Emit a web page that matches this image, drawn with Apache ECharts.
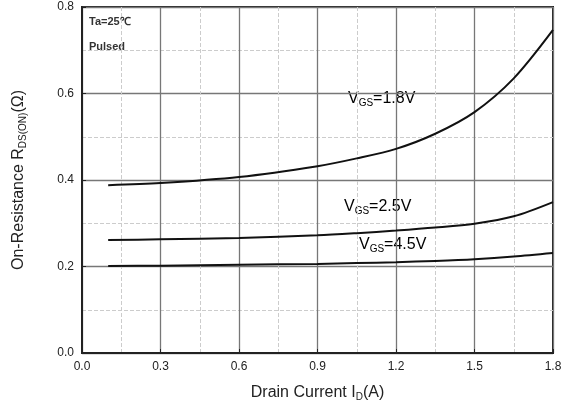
<!DOCTYPE html>
<html>
<head>
<meta charset="utf-8">
<script src="https://cdn.jsdelivr.net/npm/echarts@6/dist/echarts.min.js"></script>
<style>
  html, body { margin: 0; padding: 0; background: #fff; }
  #chart { width: 566px; height: 414px; }
</style>
</head>
<body>
<div id="chart"></div>
<script>
// drain current (A)
var current = [0.1, 0.3, 0.6, 0.9, 1.05, 1.2, 1.35, 1.5, 1.65, 1.8]
// on-resistance (ohm) per gate voltage
var vgs18 = [0.388, 0.393, 0.407, 0.432, 0.450, 0.472, 0.507, 0.557, 0.635, 0.747]
var vgs25 = [0.261, 0.263, 0.266, 0.272, 0.277, 0.283, 0.290, 0.299, 0.316, 0.349]
var vgs45 = [0.201, 0.202, 0.204, 0.206, 0.208, 0.210, 0.213, 0.217, 0.223, 0.231]

function pairs(ys) {
  return current.map(function (x, i) { return [x, ys[i]] })
}

var font = 'Liberation Sans, Arial, sans-serif'
var chart = echarts.init(document.getElementById('chart'))

function curve(ys) {
  return {
    type: 'line',
    data: pairs(ys),
    smooth: 0.3,
    showSymbol: false,
    lineStyle: { color: '#111', width: 2 }
  }
}

var titleRich = {
  a: { fontSize: 16, color: '#222', fontFamily: font },
  s: { fontSize: 10, color: '#222', fontFamily: font, padding: [9, 0, 0, 0] }
}
var vRich = {
  v: { fontSize: 16, color: '#222', fontFamily: font },
  s: { fontSize: 10, color: '#222', fontFamily: font, padding: [9, 0, 0, 0] }
}

function axisStyle() {
  return {
    axisLine: { lineStyle: { color: '#222', width: 2 } },
    axisTick: { inside: true, length: 4, lineStyle: { color: '#222' } },
    axisLabel: { color: '#222', fontSize: 12, fontFamily: font, formatter: function (v) { return v.toFixed(1) } },
    splitLine: { lineStyle: { color: '#777', width: 1.3 } },
    minorTick: { show: false, splitNumber: 2 },
    minorSplitLine: { show: true, lineStyle: { color: '#ccc', type: 'dashed', width: 1 } }
  }
}

chart.setOption({
  animation: false,
  grid: {
    left: 82, right: 13, top: 7, bottom: 61,
    show: true, borderColor: '#222', borderWidth: 2
  },
  xAxis: Object.assign({
    type: 'value', min: 0, max: 1.8, interval: 0.3,
    name: '{a|Drain Current I}{s|D}{a|(A)}',
    nameLocation: 'middle', nameGap: 30,
    nameTextStyle: { rich: titleRich }
  }, axisStyle()),
  yAxis: Object.assign({
    type: 'value', min: 0, max: 0.8, interval: 0.2,
    name: '{a|On-Resistance R}{s|DS(ON)}{a|(Ω)}',
    nameLocation: 'middle', nameGap: 54,
    nameTextStyle: { rich: titleRich }
  }, axisStyle()),
  series: [curve(vgs18), curve(vgs25), curve(vgs45)],
  graphic: [
    { type: 'text', left: 89, top: 16, style: { text: 'Ta=25℃', fontSize: 11, fontWeight: 'bold', fill: '#333', fontFamily: font } },
    { type: 'text', left: 89, top: 41, style: { text: 'Pulsed', fontSize: 11, fontWeight: 'bold', fill: '#333', fontFamily: font } },
    { type: 'text', left: 348, top: 91, style: { text: '{v|V}{s|GS}{v|=1.8V}', rich: vRich } },
    { type: 'text', left: 344, top: 199, style: { text: '{v|V}{s|GS}{v|=2.5V}', rich: vRich } },
    { type: 'text', left: 359, top: 237, style: { text: '{v|V}{s|GS}{v|=4.5V}', rich: vRich } }
  ]
})
</script>
</body>
</html>
